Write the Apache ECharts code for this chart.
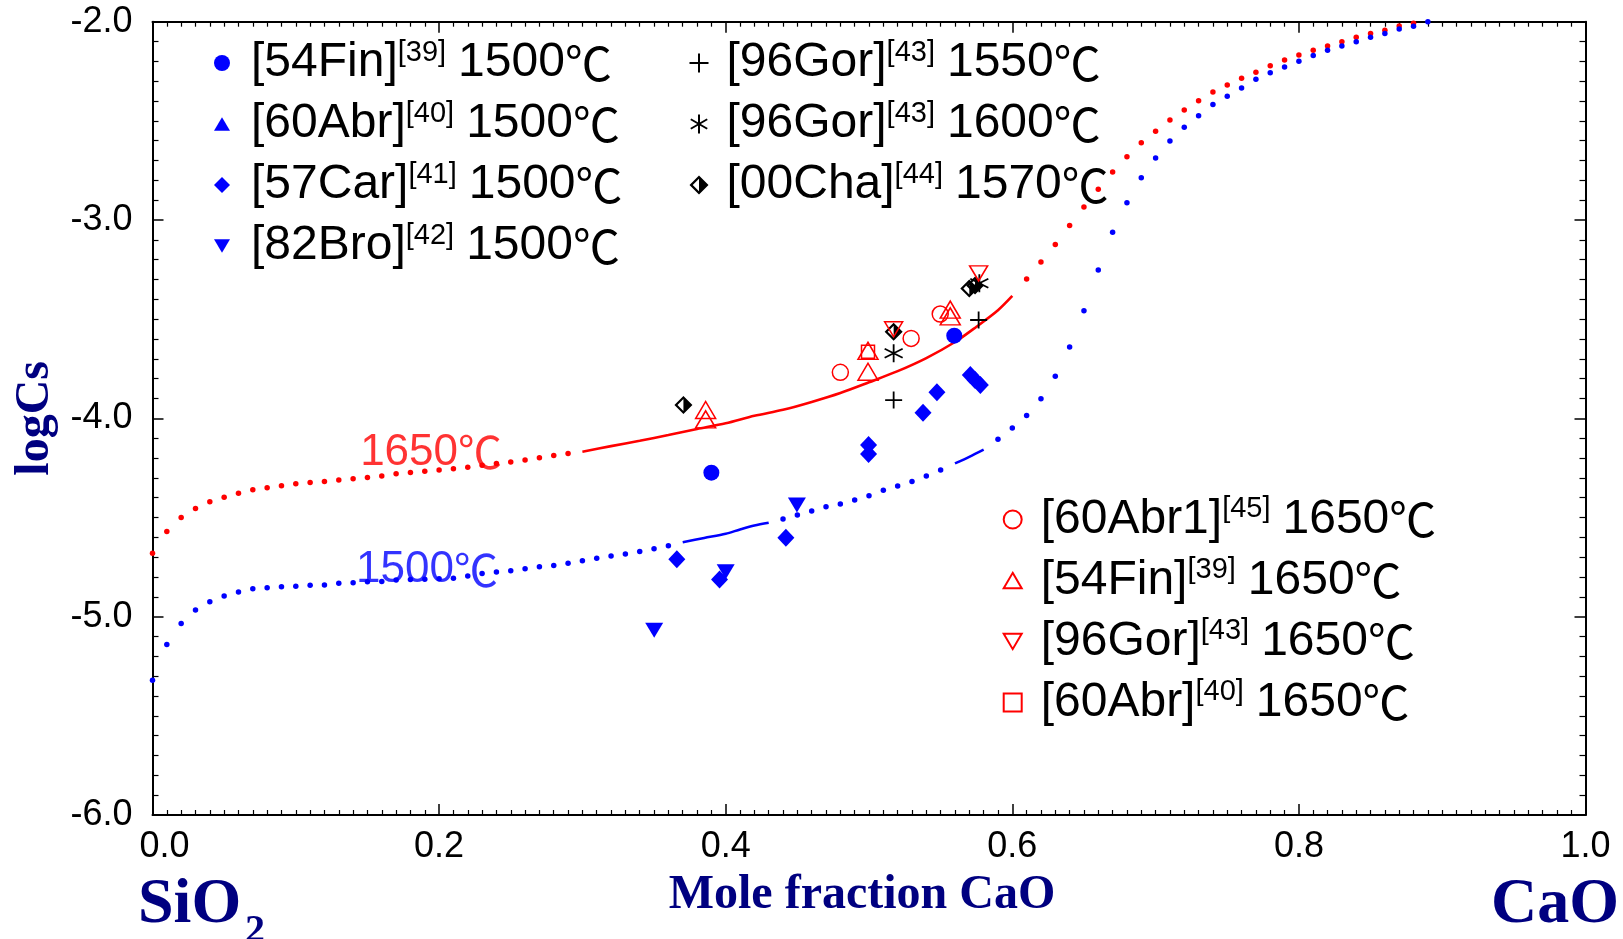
<!DOCTYPE html>
<html>
<head>
<meta charset="utf-8">
<title>logCs vs mole fraction CaO</title>
<script src="https://cdn.jsdelivr.net/npm/echarts@6/dist/echarts.min.js"></script>
<style>
  html, body { margin: 0; padding: 0; background: #ffffff; }
  #chart { width: 1623px; height: 939px; }
</style>
</head>
<body>
<div id="chart"></div>
<script>
// Sulphide capacity (logCs) of CaO–SiO2 melts against mole fraction of CaO:
// measured points from several studies plus calculated 1500℃ / 1650℃ curves.

// ---- axis ticks ----
const xTickLabels = ['0.0', '0.2', '0.4', '0.6', '0.8', '1.0'];
const yTickLabels = ['-6.0', '-5.0', '-4.0', '-3.0', '-2.0'];

// ---- calculated 1650℃ curve: dotted (computed points) and solid (fitted) parts ----
const red1650DotsLow = [
  [0.00, -4.68], [0.01, -4.57], [0.02, -4.50], [0.03, -4.455], [0.04, -4.42],
  [0.05, -4.398], [0.06, -4.378], [0.07, -4.36], [0.08, -4.35], [0.09, -4.34],
  [0.10, -4.33], [0.11, -4.323], [0.12, -4.319], [0.13, -4.311], [0.14, -4.305],
  [0.15, -4.298], [0.16, -4.291], [0.17, -4.279], [0.18, -4.273], [0.19, -4.267],
  [0.20, -4.26], [0.21, -4.254], [0.22, -4.247], [0.23, -4.237], [0.24, -4.228],
  [0.25, -4.22], [0.26, -4.21], [0.27, -4.199], [0.28, -4.187], [0.29, -4.177]
];
const red1650Solid = [
  [0.30, -4.168], [0.32, -4.14], [0.34, -4.113], [0.36, -4.084], [0.38, -4.054],
  [0.40, -4.025], [0.42, -3.987], [0.44, -3.957], [0.46, -3.917], [0.48, -3.872],
  [0.50, -3.818], [0.52, -3.762], [0.54, -3.696], [0.56, -3.615], [0.575, -3.538],
  [0.59, -3.455], [0.60, -3.383]
];
const red1650DotsHigh = [
  [0.61, -3.297], [0.62, -3.212], [0.63, -3.124], [0.64, -3.027], [0.65, -2.934],
  [0.66, -2.845], [0.67, -2.758], [0.68, -2.681], [0.69, -2.610], [0.70, -2.553],
  [0.71, -2.496], [0.72, -2.445], [0.73, -2.398], [0.74, -2.355], [0.75, -2.319],
  [0.76, -2.285], [0.77, -2.255], [0.78, -2.222], [0.79, -2.193], [0.80, -2.168],
  [0.81, -2.144], [0.82, -2.122], [0.83, -2.101], [0.84, -2.079], [0.85, -2.059],
  [0.86, -2.043], [0.87, -2.022], [0.88, -2.008]
];

// ---- calculated 1500℃ curve ----
const blue1500DotsLow = [
  [0.00, -5.32], [0.01, -5.14], [0.02, -5.035], [0.03, -4.966], [0.04, -4.925],
  [0.05, -4.896], [0.06, -4.876], [0.07, -4.859], [0.08, -4.854], [0.09, -4.849],
  [0.10, -4.846], [0.11, -4.841], [0.12, -4.840], [0.13, -4.832], [0.14, -4.829],
  [0.15, -4.824], [0.16, -4.823], [0.17, -4.815], [0.18, -4.813], [0.19, -4.811],
  [0.20, -4.809], [0.21, -4.806], [0.22, -4.795], [0.23, -4.782], [0.24, -4.775],
  [0.25, -4.768], [0.26, -4.758], [0.27, -4.748], [0.28, -4.742], [0.29, -4.731],
  [0.30, -4.718], [0.31, -4.706], [0.32, -4.694], [0.33, -4.684], [0.34, -4.671],
  [0.35, -4.658], [0.36, -4.642]
];
const blue1500SolidA = [
  [0.37, -4.625], [0.385, -4.603], [0.40, -4.582], [0.41, -4.560], [0.42, -4.540], [0.43, -4.526]
];
const blue1500DotsMid = [
  [0.44, -4.507], [0.45, -4.487], [0.46, -4.467], [0.47, -4.446], [0.48, -4.432],
  [0.49, -4.412], [0.50, -4.390], [0.51, -4.362], [0.52, -4.341], [0.53, -4.318],
  [0.54, -4.291], [0.55, -4.261]
];
const blue1500SolidB = [
  [0.56, -4.227], [0.57, -4.194], [0.58, -4.158]
];
const blue1500DotsHigh = [
  [0.59, -4.106], [0.60, -4.049], [0.61, -3.985], [0.62, -3.901], [0.63, -3.788],
  [0.64, -3.640], [0.65, -3.457], [0.66, -3.252], [0.67, -3.062], [0.68, -2.913],
  [0.69, -2.787], [0.70, -2.687], [0.71, -2.602], [0.72, -2.532], [0.73, -2.474],
  [0.74, -2.418], [0.75, -2.376], [0.76, -2.334], [0.77, -2.290], [0.78, -2.257],
  [0.79, -2.228], [0.80, -2.200], [0.81, -2.171], [0.82, -2.144], [0.83, -2.123],
  [0.84, -2.101], [0.85, -2.079], [0.86, -2.059], [0.87, -2.037], [0.88, -2.023],
  [0.89, -2.000]
];

// ---- measured data, 1500℃ ----
const fin1500 = [[0.390, -4.274], [0.5595, -3.583]];
const abr1500 = [];
const car1500 = [
  [0.3659, -4.711], [0.3957, -4.812], [0.442, -4.602], [0.4997, -4.135], [0.4997, -4.180],
  [0.5377, -3.972], [0.5474, -3.869], [0.5707, -3.782], [0.574, -3.807], [0.5777, -3.832]
];
const bro1500 = [[0.3501, -5.068], [0.400, -4.774], [0.4497, -4.437]];

// ---- measured data, 1550–1600℃ ----
const gor1550 = [[0.5172, -3.908], [0.5765, -3.504]];
const gor1600 = [[0.5172, -3.672], [0.577, -3.319]];
const cha1570 = [[0.3705, -3.933], [0.5172, -3.563], [0.570, -3.345], [0.574, -3.330]];

// ---- measured data, 1650℃ ----
const abr1_1650 = [[0.480, -3.768], [0.5294, -3.597], [0.5497, -3.474]];
const fin1650 = [
  [0.386, -3.958], [0.386, -4.005], [0.4993, -3.660], [0.4993, -3.765],
  [0.5567, -3.452], [0.5567, -3.486]
];
const gor1650 = [[0.5172, -3.551], [0.5765, -3.269]];
const abr1650 = [[0.4993, -3.664]];

// ---- legend texts: reference key, citation number, temperature ----
const refKeys  = ['[54Fin]', '[60Abr]', '[57Car]', '[82Bro]', '[96Gor]', '[96Gor]', '[00Cha]',
                  '[60Abr1]', '[54Fin]', '[96Gor]', '[60Abr]'];
const refCites = ['[39]', '[40]', '[41]', '[42]', '[43]', '[43]', '[44]',
                  '[45]', '[39]', '[43]', '[40]'];
const refTemps = ['1500', '1500', '1500', '1500', '1550', '1600', '1570',
                  '1650', '1650', '1650', '1650'];
const DEG_C = '℃';

// ---- curve captions ----
const curveCaptions = ['1650', '1500'];
const curveCaptionAt = [[0.1944, -4.172], [0.1916, -4.765]];

// ---------------------------------------------------------------
const SANS = '"Liberation Sans", Arial, sans-serif';
const CJK = '"Noto Sans CJK SC", "Noto Sans CJK JP", sans-serif';
const SERIF = '"Liberation Serif", "Times New Roman", serif';
const NAVY = '#000080';
const RED = '#ff0000';
const BLUE = '#0000ff';
const BLACK = '#000000';

const SYM_TRI_UP = 'path://M10,0L20,17L0,17Z';
const SYM_TRI_DOWN = 'path://M0,0L20,0L10,17Z';
const SYM_PLUS = 'path://M10,0L10,20M0,10L20,10';
const SYM_STAR = 'path://M10,0L10,20M1.34,5L18.66,15M1.34,15L18.66,5';
// outlined diamond whose right half is filled
const SYM_HALF_DIAMOND = 'path://M10,0L20,10L10,20L0,10ZM10,3.4L3.4,10L10,16.6L16.6,10ZM10,0L20,10L10,20Z';

const seriesNames = refKeys.map((k, i) => k + refCites[i] + ' ' + refTemps[i] + DEG_C);
const nameIndex = {};
seriesNames.forEach((n, i) => { nameIndex[n] = i; });

const filled = c => ({ color: c, borderWidth: 0, opacity: 1 });
const hollow = c => ({ color: 'rgba(0,0,0,0)', borderColor: c, borderWidth: 1.5, opacity: 1 });
const strokeOnly = c => ({ color: 'rgba(0,0,0,0)', borderColor: c, borderWidth: 1.8, opacity: 1 });

function marker(i, data, symbol, size, itemStyle) {
  return {
    type: 'scatter', name: seriesNames[i], data: data,
    symbol: symbol, symbolSize: size, itemStyle: itemStyle,
    z: 5, silent: true, animation: false
  };
}
function dots(data, color) {
  return {
    type: 'scatter', data: data, symbol: 'circle', symbolSize: 5.5,
    itemStyle: { color: color, opacity: 1 }, z: 3, silent: true, animation: false
  };
}
function solid(data, color) {
  return {
    type: 'line', data: data, showSymbol: false, symbol: 'none', smooth: 0.3,
    lineStyle: { color: color, width: 2.6 }, z: 3, silent: true, animation: false
  };
}
function caption(i, color) {
  return {
    type: 'scatter', data: [curveCaptionAt[i]], symbolSize: 1,
    itemStyle: { color: 'rgba(0,0,0,0)' }, z: 6, silent: true, animation: false,
    label: {
      show: true, position: 'inside',
      formatter: '{n|' + curveCaptions[i] + '}{c|' + DEG_C + '}',
      rich: {
        n: { color: color, fontFamily: SANS, fontSize: 44 },
        c: { color: color, fontFamily: CJK, fontSize: 44 }
      }
    },
    labelLayout: { hideOverlap: false }
  };
}

function legendRich(gap) {
  return {
    r: { fontFamily: SANS, fontSize: 48, color: BLACK, lineHeight: 50, padding: [0, 0, 0, gap] },
    s: { fontFamily: SANS, fontSize: 29, color: BLACK, lineHeight: 36, verticalAlign: 'top' },
    t: { fontFamily: SANS, fontSize: 48, color: BLACK, lineHeight: 50, padding: [0, 0, 0, 12] },
    c: { fontFamily: CJK, fontSize: 47, color: BLACK, lineHeight: 50 }
  };
}
function legendText(name) {
  const i = nameIndex[name];
  return '{r|' + refKeys[i] + '}{s|' + refCites[i] + '}{t|' + refTemps[i] + '}{c|' + DEG_C + '}';
}
function legendBlock(ids, left, top, icon) {
  return {
    orient: 'vertical', left: left, top: top, padding: 0,
    itemGap: 12, itemWidth: icon, itemHeight: icon,
    selectedMode: false,
    data: ids.map(i => seriesNames[i]),
    formatter: legendText,
    textStyle: { rich: legendRich(16 - (icon - 16)) }
  };
}

const tickCommon = {
  axisLine: { show: true, onZero: false, lineStyle: { color: BLACK, width: 2 } },
  axisTick: { show: true, inside: true, length: 11, lineStyle: { color: BLACK, width: 1.5 } },
  splitLine: { show: false },
  minorSplitLine: { show: false }
};
const xMinor = { show: true, splitNumber: 20, length: 5, lineStyle: { color: BLACK, width: 1.2 } };
const yMinor = { show: true, splitNumber: 10, length: 6, lineStyle: { color: BLACK, width: 1.2 } };

const option = {
  backgroundColor: '#ffffff',
  animation: false,
  grid: { left: 152.5, right: 37.5, top: 21.7, bottom: 124, containLabel: false, outerBoundsMode: 'none' },
  xAxis: [
    Object.assign({
      type: 'value', min: 0, max: 1, interval: 0.2, position: 'bottom',
      minorTick: xMinor,
      axisLabel: {
        show: true, margin: 14, color: BLACK, fontFamily: SANS, fontSize: 36,
        formatter: (v) => {
          const k = Math.round(v / 0.2);
          return k === 0 ? '{z|' + xTickLabels[0] + '}' : xTickLabels[k];
        },
        rich: { z: { fontFamily: SANS, fontSize: 36, color: BLACK, padding: [0, 0, 0, 24] } }
      },
      name: 'Mole fraction CaO', nameLocation: 'middle', nameGap: 57,
      nameTextStyle: { color: NAVY, fontFamily: SERIF, fontWeight: 'bold', fontSize: 48, padding: [0, 14, 0, 0] }
    }, tickCommon),
    Object.assign({
      type: 'value', min: 0, max: 1, interval: 0.2, position: 'top',
      minorTick: xMinor,
      axisLabel: { show: false }
    }, tickCommon)
  ],
  yAxis: [
    Object.assign({
      type: 'value', min: -6, max: -2, interval: 1, position: 'left',
      minorTick: yMinor,
      axisLabel: {
        show: true, margin: 20, color: BLACK, fontFamily: SANS, fontSize: 36,
        formatter: (v) => yTickLabels[Math.round(v + 6)]
      },
      name: 'logCs', nameLocation: 'middle', nameGap: 86, nameRotate: 90,
      nameTextStyle: { color: NAVY, fontFamily: SERIF, fontWeight: 'bold', fontSize: 48 }
    }, tickCommon),
    Object.assign({
      type: 'value', min: -6, max: -2, interval: 1, position: 'right',
      minorTick: yMinor,
      axisLabel: { show: false }
    }, tickCommon)
  ],
  legend: [
    legendBlock([0, 1, 2, 3], 214, 38, 16),
    legendBlock([4, 5, 6], 688.5, 38, 19),
    legendBlock([7, 8, 9, 10], 1002.7, 494.5, 18)
  ],
  graphic: [
    { type: 'text', left: 138, top: 873, silent: true,
      style: { text: 'SiO', fill: NAVY, font: 'bold 64px ' + SERIF } },
    { type: 'text', left: 245, top: 912, silent: true,
      style: { text: '2', fill: NAVY, font: 'bold 40px ' + SERIF } },
    { type: 'text', left: 1491, top: 873, silent: true,
      style: { text: 'CaO', fill: NAVY, font: 'bold 64px ' + SERIF } }
  ],
  series: [
    dots(red1650DotsLow, RED), solid(red1650Solid, RED), dots(red1650DotsHigh, RED),
    dots(blue1500DotsLow, BLUE), solid(blue1500SolidA, BLUE), dots(blue1500DotsMid, BLUE),
    solid(blue1500SolidB, BLUE), dots(blue1500DotsHigh, BLUE),

    marker(0, fin1500, 'circle', 16, filled(BLUE)),
    marker(1, abr1500, SYM_TRI_UP, [18, 16], filled(BLUE)),
    marker(2, car1500, 'diamond', [17, 18], filled(BLUE)),
    marker(3, bro1500, SYM_TRI_DOWN, [18, 15], filled(BLUE)),

    marker(4, gor1550, SYM_PLUS, 17, strokeOnly(BLACK)),
    marker(5, gor1600, SYM_STAR, 18, strokeOnly(BLACK)),
    marker(6, cha1570, SYM_HALF_DIAMOND, 18, filled(BLACK)),

    marker(7, abr1_1650, 'circle', 16, hollow(RED)),
    marker(8, fin1650, SYM_TRI_UP, [20, 17], hollow(RED)),
    marker(9, gor1650, SYM_TRI_DOWN, [18, 15], hollow(RED)),
    marker(10, abr1650, 'rect', 13, hollow(RED)),

    caption(0, RED), caption(1, BLUE)
  ]
};

const chart = echarts.init(document.getElementById('chart'), null, { renderer: 'canvas' });
chart.setOption(option);
</script>
</body>
</html>
